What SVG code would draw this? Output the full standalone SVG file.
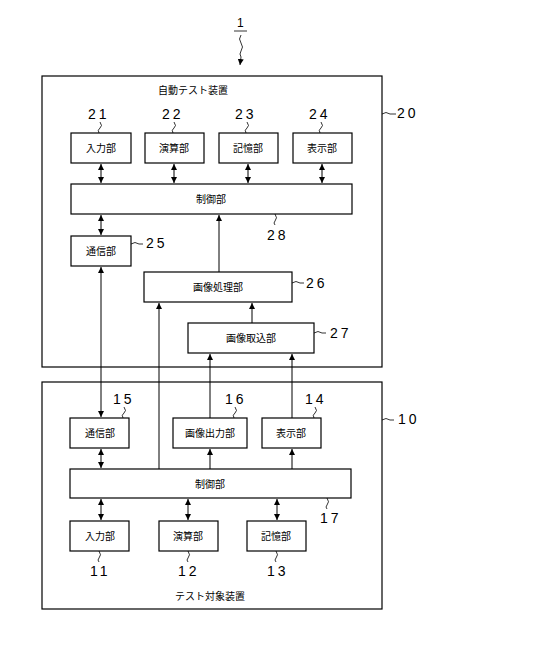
<svg xmlns="http://www.w3.org/2000/svg" width="544" height="661" viewBox="0 0 544 661">
<style>
.box{fill:#fff;stroke:#000;stroke-width:1.2}
.frame{fill:none;stroke:#000;stroke-width:1.2}
.lbl{font-family:"Noto Sans CJK JP",sans-serif;font-size:10px;text-anchor:middle;fill:#000}
.num{font-family:"Liberation Sans",sans-serif;font-size:14px;letter-spacing:3px;fill:#000}
.ln{fill:none;stroke:#000;stroke-width:1}
.ld{fill:none;stroke:#000;stroke-width:0.8}
</style>
<defs>
<marker id="ah" markerUnits="userSpaceOnUse" markerWidth="6" markerHeight="6" refX="6" refY="3" orient="auto-start-reverse"><path d="M0,0 L6,3 L0,6 z" fill="#000"/></marker>
</defs>
<rect width="544" height="661" fill="#fff"/>

<g id="ref1">
<text class="num" x="237" y="27" style="font-size:12px">1</text>
<line class="ld" x1="234" y1="31" x2="247" y2="31"/>
<path class="ld" d="M241,35 q-3,4 0,8 q3,4 0,8 q-2,3 0,6 L240,65" marker-end="url(#ah)"/>
</g>

<g id="n20">
<rect class="frame" x="42" y="76" width="340" height="291"/>
<text class="lbl" x="193" y="94">自動テスト装置</text>
<path class="ld" d="M382,114 q4,-3 8,0 l6,0"/>
<text class="num" x="397" y="118">20</text>
</g>

<g id="n21">
<rect class="box" x="71" y="133" width="60" height="30"/>
<text class="lbl" x="101" y="152">入力部</text>
<text class="num" x="88" y="119">21</text>
<path class="ld" d="M100,122 q3,4 0,6 q-3,2 -1,5"/>
</g>
<g id="n22">
<rect class="box" x="145" y="133" width="59" height="30"/>
<text class="lbl" x="174" y="152">演算部</text>
<text class="num" x="162" y="119">22</text>
<path class="ld" d="M174,122 q3,4 0,6 q-3,2 -1,5"/>
</g>
<g id="n23">
<rect class="box" x="219" y="133" width="59" height="30"/>
<text class="lbl" x="248" y="152">記憶部</text>
<text class="num" x="235" y="119">23</text>
<path class="ld" d="M247,122 q3,4 0,6 q-3,2 -1,5"/>
</g>
<g id="n24">
<rect class="box" x="293" y="133" width="59" height="30"/>
<text class="lbl" x="322" y="152">表示部</text>
<text class="num" x="309" y="119">24</text>
<path class="ld" d="M321,122 q3,4 0,6 q-3,2 -1,5"/>
</g>
<g id="n28">
<rect class="box" x="71" y="184" width="281" height="30"/>
<text class="lbl" x="211" y="203">制御部</text>
<path class="ld" d="M275,214 q3,4 0,7 q-2,2 0,4"/>
<text class="num" x="267" y="240">28</text>
</g>
<g id="n25">
<rect class="box" x="71" y="236" width="60" height="30"/>
<text class="lbl" x="101" y="255">通信部</text>
<path class="ld" d="M131,244 q4,-3 8,0 l4,0"/>
<text class="num" x="146" y="248">25</text>
</g>
<g id="n26">
<rect class="box" x="144" y="272" width="148" height="30"/>
<text class="lbl" x="218" y="291">画像処理部</text>
<path class="ld" d="M292,283 q4,-3 8,0 l4,0"/>
<text class="num" x="306" y="288">26</text>
</g>
<g id="n27">
<rect class="box" x="188" y="323" width="126" height="30"/>
<text class="lbl" x="251" y="342">画像取込部</text>
<path class="ld" d="M314,333 q4,-3 8,0 l4,0"/>
<text class="num" x="330" y="338">27</text>
</g>

<g id="n10">
<rect class="frame" x="42" y="382" width="340" height="227"/>
<path class="ld" d="M382,420 q4,-3 8,0 l4,0"/>
<text class="num" x="398" y="424">10</text>
<text class="lbl" x="210" y="600">テスト対象装置</text>
</g>
<g id="n15">
<rect class="box" x="70" y="418" width="59" height="30"/>
<text class="lbl" x="100" y="437">通信部</text>
<text class="num" x="113" y="404">15</text>
<path class="ld" d="M124,407 q3,4 0,6 q-3,2 -1,5"/>
</g>
<g id="n16">
<rect class="box" x="173" y="418" width="74" height="30"/>
<text class="lbl" x="210" y="437">画像出力部</text>
<text class="num" x="225" y="404">16</text>
<path class="ld" d="M235,407 q3,4 0,6 q-3,2 -1,5"/>
</g>
<g id="n14">
<rect class="box" x="262" y="418" width="59" height="30"/>
<text class="lbl" x="291" y="437">表示部</text>
<text class="num" x="305" y="404">14</text>
<path class="ld" d="M315,407 q3,4 0,6 q-3,2 -1,5"/>
</g>
<g id="n17">
<rect class="box" x="70" y="469" width="281" height="29"/>
<text class="lbl" x="210" y="488">制御部</text>
<path class="ld" d="M327,498 q3,4 0,7 q-2,2 0,4"/>
<text class="num" x="320" y="523">17</text>
</g>
<g id="n11">
<rect class="box" x="70" y="521" width="59" height="30"/>
<text class="lbl" x="100" y="540">入力部</text>
<path class="ld" d="M99,551 q3,4 0,7 q-2,2 0,4"/>
<text class="num" x="90" y="576">11</text>
</g>
<g id="n12">
<rect class="box" x="159" y="521" width="59" height="30"/>
<text class="lbl" x="188" y="540">演算部</text>
<path class="ld" d="M188,551 q3,4 0,7 q-2,2 0,4"/>
<text class="num" x="178" y="576">12</text>
</g>
<g id="n13">
<rect class="box" x="247" y="521" width="59" height="30"/>
<text class="lbl" x="276" y="540">記憶部</text>
<path class="ld" d="M276,551 q3,4 0,7 q-2,2 0,4"/>
<text class="num" x="267" y="576">13</text>
</g>

<g id="connectors">
<line class="ln" x1="101" y1="164" x2="101" y2="183" marker-start="url(#ah)" marker-end="url(#ah)"/>
<line class="ln" x1="174" y1="164" x2="174" y2="183" marker-start="url(#ah)" marker-end="url(#ah)"/>
<line class="ln" x1="248" y1="164" x2="248" y2="183" marker-start="url(#ah)" marker-end="url(#ah)"/>
<line class="ln" x1="322" y1="164" x2="322" y2="183" marker-start="url(#ah)" marker-end="url(#ah)"/>
<line class="ln" x1="101" y1="215" x2="101" y2="235" marker-start="url(#ah)" marker-end="url(#ah)"/>
<line class="ln" x1="219" y1="272" x2="219" y2="215" marker-end="url(#ah)"/>
<line class="ln" x1="252" y1="323" x2="252" y2="303" marker-end="url(#ah)"/>
<line class="ln" x1="101" y1="267" x2="101" y2="417" marker-start="url(#ah)" marker-end="url(#ah)"/>
<line class="ln" x1="159" y1="469" x2="159" y2="303" marker-end="url(#ah)"/>
<line class="ln" x1="210" y1="418" x2="210" y2="354" marker-end="url(#ah)"/>
<line class="ln" x1="292" y1="418" x2="292" y2="354" marker-end="url(#ah)"/>
<line class="ln" x1="101" y1="449" x2="101" y2="468" marker-start="url(#ah)" marker-end="url(#ah)"/>
<line class="ln" x1="210" y1="469" x2="210" y2="449" marker-end="url(#ah)"/>
<line class="ln" x1="292" y1="469" x2="292" y2="449" marker-end="url(#ah)"/>
<line class="ln" x1="101" y1="499" x2="101" y2="520" marker-start="url(#ah)" marker-end="url(#ah)"/>
<line class="ln" x1="188" y1="499" x2="188" y2="520" marker-start="url(#ah)" marker-end="url(#ah)"/>
<line class="ln" x1="277" y1="499" x2="277" y2="520" marker-start="url(#ah)" marker-end="url(#ah)"/>
</g>
</svg>
